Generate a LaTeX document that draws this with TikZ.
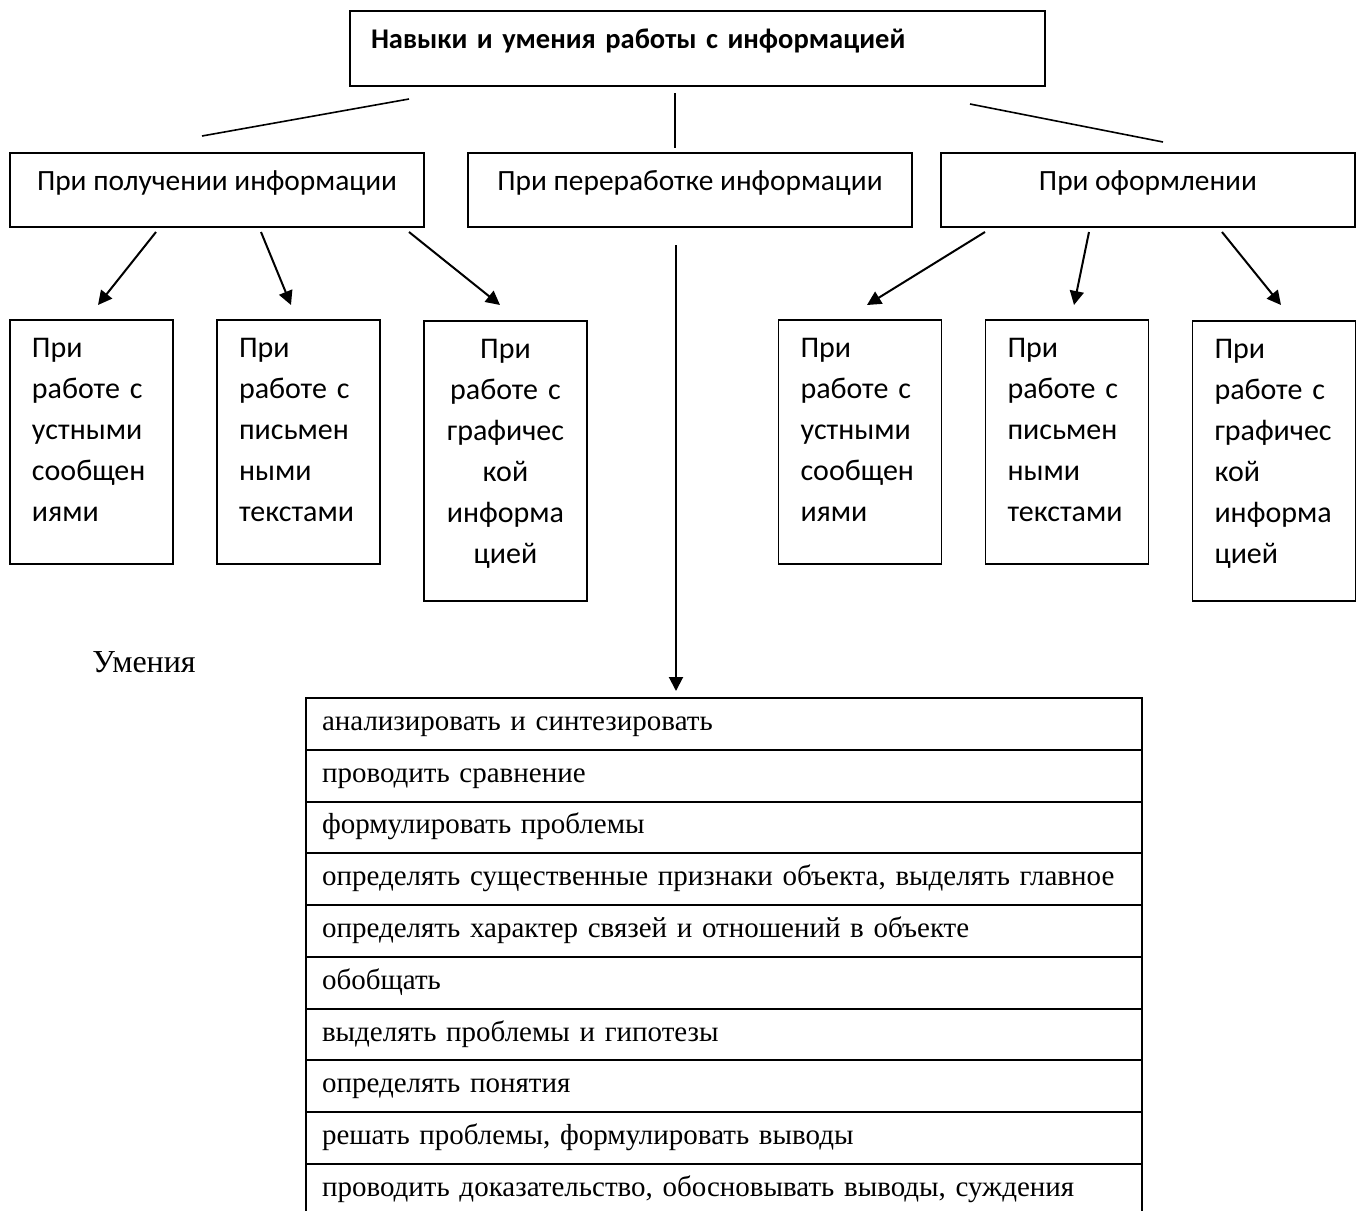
\documentclass[tikz,border=0pt]{standalone}
\usepackage{fontspec}
\setmainfont{Liberation Serif}
\newfontfamily\calib{Carlito}
\usepackage{tikz}
\usetikzlibrary{arrows.meta}
\usetikzlibrary{positioning}

\begin{document}
\begin{tikzpicture}[x=0.5pt,y=-0.5pt,
	box/.style={draw, line width=0.8pt, inner sep=0pt, font=\calib\fontsize{15}{20.5}\selectfont},
	headbox/.style={box, minimum width=347.5pt, minimum height=37.5pt, text width=326.5pt, align=left, text height=10pt, text depth=10pt, font=\calib\bfseries\fontsize{14.25}{18}\selectfont},
	groupbox/.style={box, minimum height=37pt, text height=10pt, text depth=10pt, font=\calib\fontsize{14.7}{18}\selectfont},
	leaf/.style={box, anchor=north, minimum width=81.5pt, text width=59.5pt, align=left, text height=19pt, text depth=103pt},
	tallleaf/.style={leaf, text depth=121pt},
	row/.style={draw, line width=1pt, outer sep=0pt, inner sep=0pt, minimum width=418pt, minimum height=25.89pt, text width=402pt, align=left, text height=10pt, text depth=3.5pt, font=\fontsize{14.5}{17}\selectfont},
	link/.style={line width=0.8pt},
	arr/.style={line width=1pt, -{Triangle[length=7pt,width=7pt]}}]
	
	\useasboundingbox (0,0) rectangle (1362,1211);
	\clip (0,0) rectangle (1362,1211);
	
	\node[headbox] (head) at (697.5,48.5) {Навыки и умения работы с информацией};
	
	\node[groupbox, minimum width=207pt] (get) at (217,190) {При получении информации};
	\node[groupbox, minimum width=222pt] (proc) at (690,190) {При переработке информации};
	\node[groupbox, minimum width=207pt] (form) at (1148,190) {При оформлении};
	
	\node[leaf] (getoral) at (91.5,319) {При\\работе с\\устными\\сообщен\\иями};
	\node[leaf] (getwrit) at (298.5,319) {При\\работе с\\письмен\\ными\\текстами};
	\node[tallleaf, align=center] (getgraph) at (505.5,320) {При\\работе с\\графичес\\кой\\информа\\цией};
	\node[leaf] (formoral) at (860,319) {При\\работе с\\устными\\сообщен\\иями};
	\node[leaf] (formwrit) at (1067,319) {При\\работе с\\письмен\\ными\\текстами};
	\node[tallleaf] (formgraph) at (1274,320) {При\\работе с\\графичес\\кой\\информа\\цией};
	
	\node[anchor=base west, inner sep=0pt, font=\fontsize{16}{19}\selectfont] (skills) at (92,672) {Умения};
	
	\foreach \txt [count=\i] in {анализировать и синтезировать, проводить сравнение, формулировать проблемы,
		{определять существенные признаки объекта, выделять главное}, определять характер связей и отношений в объекте,
		обобщать, выделять проблемы и гипотезы, определять понятия, {решать проблемы, формулировать выводы},
		{проводить доказательство, обосновывать выводы, суждения}}
		\node[row] (r\i) at (724,{672.11+51.78*\i}) {\txt};
	
	\coordinate (h1) at (409,99);
	\coordinate (g1) at (202,136);
	\coordinate (h2) at (675,93);
	\coordinate (g2) at (675,148);
	\coordinate (h3) at (970,104);
	\coordinate (g3) at (1163,142);
	\draw[link] (h1) -- (g1);
	\draw[link] (h2) -- (g2);
	\draw[link] (h3) -- (g3);
	
	\coordinate (a1) at (156,232);
	\coordinate (a2) at (261,232);
	\coordinate (a3) at (409,232);
	\coordinate (b1) at (98,305);
	\coordinate (b2) at (291,305);
	\coordinate (b3) at (500,305);
	\coordinate (c1) at (985,232);
	\coordinate (c2) at (1089,232);
	\coordinate (c3) at (1222,232);
	\coordinate (d1) at (867,305);
	\coordinate (d2) at (1074,305);
	\coordinate (d3) at (1281,305);
	\foreach \k in {1,2,3} {
		\draw[arr] (a\k) -- (b\k);
		\draw[arr] (c\k) -- (d\k);
	}
	
	\coordinate (p1) at (676,245);
	\coordinate (p2) at (676,691);
	\draw[arr] (p1) -- (p2);
	
\end{tikzpicture}
\end{document}
